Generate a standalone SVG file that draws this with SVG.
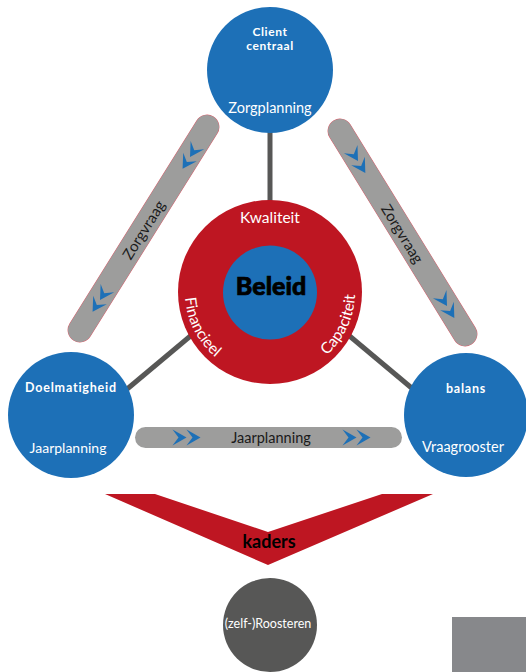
<svg xmlns="http://www.w3.org/2000/svg" width="526" height="672" viewBox="0 0 526 672">
<style>
.t{font-family:Lato,"Open Sans","Liberation Sans",sans-serif;text-anchor:middle}
.w{fill:#ffffff}
.k{fill:#1a1a1a}
.b{font-weight:bold}
.blue{fill:#1d70b7}
.bar{stroke:#9d9d9c;stroke-width:24;stroke-linecap:round;fill:none}
.edge{stroke:#e05a68;stroke-width:24.8;stroke-linecap:round;fill:none}
.con{stroke:#575756;stroke-width:5}
.chev{fill:#1d70b7}
</style>
<defs>
<g id="chev2" class="chev"><polygon points="-14,-8 0,0 -14,8 -8,0"/><polygon points="0,-8 14,0 0,8 6,0"/></g>
<path id="arcF" d="M186.29,277.24 A85,85 0 0 0 232.74,368.4"/>
<path id="arcC" d="M299.07,371.87 A85,85 0 0 0 349.87,262.93"/>
</defs>

<g id="connectors">
<line class="con" x1="270" y1="125" x2="270" y2="210"/>
<line class="con" x1="120" y1="395" x2="200" y2="328"/>
<line class="con" x1="340" y1="328" x2="420" y2="395"/>
</g>

<g id="bar-left">
<line class="edge" x1="207" y1="127" x2="80" y2="330"/>
<line class="bar" x1="207" y1="127" x2="80" y2="330"/>
<use href="#chev2" transform="translate(190,157) rotate(122)"/>
<use href="#chev2" transform="translate(100,300) rotate(122)"/>
<text class="t k" font-size="15" transform="translate(144,230) rotate(-58)" y="5">Zorgvraag</text>
</g>

<g id="bar-right">
<line class="edge" x1="340" y1="131" x2="465" y2="334"/>
<line class="bar" x1="340" y1="131" x2="465" y2="334"/>
<use href="#chev2" transform="translate(358,161) rotate(58.4)"/>
<use href="#chev2" transform="translate(447,306) rotate(58.4)"/>
<text class="t k" font-size="15" transform="translate(402,234) rotate(58.4)" y="5">Zorgvraag</text>
</g>

<g id="bar-bottom">
<rect x="135" y="427" width="267" height="21" rx="10.5" fill="#9d9d9c"/>
<use href="#chev2" transform="translate(186.5,437.5)"/>
<use href="#chev2" transform="translate(356.5,437.5)"/>
<text class="t k" font-size="14.5" x="271" y="443">Jaarplanning</text>
</g>

<g id="node-top">
<circle class="blue" cx="270" cy="70" r="63"/>
<text class="t w b" font-size="12" letter-spacing="0.6" x="270" y="36">Client</text>
<text class="t w b" font-size="12" letter-spacing="0.6" x="270" y="50">centraal</text>
<text class="t w" font-size="14.5" x="270" y="113">Zorgplanning</text>
</g>

<g id="node-left">
<circle class="blue" cx="71" cy="415" r="63"/>
<text class="t w b" font-size="12.5" letter-spacing="0.8" x="71" y="392">Doelmatigheid</text>
<text class="t w" font-size="14" x="68" y="453">Jaarplanning</text>
</g>

<g id="node-right">
<circle class="blue" cx="466" cy="415" r="62"/>
<text class="t w b" font-size="12.5" letter-spacing="0.8" x="466" y="393">balans</text>
<text class="t w" font-size="14.5" x="463" y="452">Vraagrooster</text>
</g>

<g id="node-center">
<circle cx="270" cy="292" r="92" fill="#be1622"/>
<circle class="blue" cx="270" cy="292.5" r="47"/>
<text class="t w" font-size="15.5" x="270" y="223">Kwaliteit</text>
<text class="t w" font-size="15.5"><textPath href="#arcF" startOffset="50%">Financieel</textPath></text>
<text class="t w" font-size="15.5"><textPath href="#arcC" startOffset="50%">Capaciteit</textPath></text>
<text class="t" font-size="25" font-weight="900" x="271" y="295" fill="#000" stroke="#000" stroke-width="0.7">Beleid</text>
</g>

<g id="kaders">
<polygon points="105,494 155,494 268,532 382,494 433,494 268,565" fill="#be1622"/>
<text class="t b" font-size="18" x="269" y="548" fill="#000">kaders</text>
</g>

<g id="node-bottom">
<circle cx="270" cy="625" r="47" fill="#575756"/>
<text class="t w" font-size="12.5" x="268" y="628">(zelf-)Roosteren</text>
</g>

<rect id="grey-box" x="452" y="617" width="74" height="55" fill="#87888b"/>
</svg>
